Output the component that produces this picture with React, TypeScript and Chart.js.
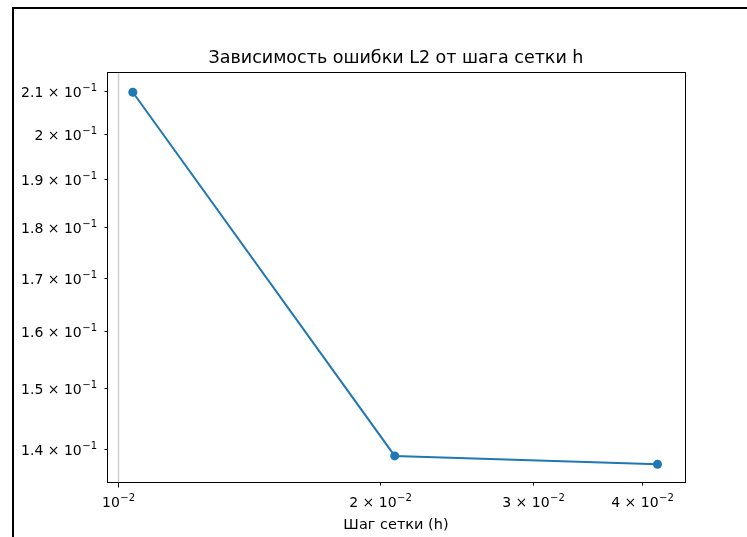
import React, { useEffect, useRef } from "react";
import { Chart, registerables } from "chart.js";

Chart.register(...registerables);

const stepSizes = [0.0104, 0.0208, 0.0417];
const l2Errors = [0.2097, 0.1389, 0.1376];

const xTickValues = [0.01, 0.02, 0.03, 0.04];
const xTickMajor = [true, false, false, false];
const xTickBases = ["10", "2 × 10", "3 × 10", "4 × 10"];
const xTickExps = ["−2", "−2", "−2", "−2"];
const yTickValues = [0.14, 0.15, 0.16, 0.17, 0.18, 0.19, 0.2, 0.21];
const yTickBases = [
  "1.4 × 10",
  "1.5 × 10",
  "1.6 × 10",
  "1.7 × 10",
  "1.8 × 10",
  "1.9 × 10",
  "2 × 10",
  "2.1 × 10",
];
const yTickExps = ["−1", "−1", "−1", "−1", "−1", "−1", "−1", "−1"];

const chartTitle = "Зависимость ошибки L2 от шага сетки h";
const xAxisTitle = "Шаг сетки (h)";

const FONT = "'DejaVu Sans', sans-serif";
const BASE_SIZE = 14;
const EXP_SIZE = 10;

function drawMathLabel(
  ctx: CanvasRenderingContext2D,
  base: string,
  exp: string,
  x: number,
  baseline: number,
  align: "right" | "center"
) {
  ctx.font = `${BASE_SIZE}px ${FONT}`;
  const wb = ctx.measureText(base).width;
  ctx.font = `${EXP_SIZE}px ${FONT}`;
  const we = ctx.measureText(exp).width;
  const total = wb + 0.5 + we;
  const left = align === "right" ? x - total : x - total / 2;
  ctx.textAlign = "left";
  ctx.textBaseline = "alphabetic";
  ctx.font = `${BASE_SIZE}px ${FONT}`;
  ctx.fillText(base, left, baseline);
  ctx.font = `${EXP_SIZE}px ${FONT}`;
  ctx.fillText(exp, left + wb + 0.5, baseline - 6);
}

const decorPlugin = {
  id: "decor",
  beforeDraw(chart: any) {
    const ctx = chart.ctx;
    ctx.save();
    ctx.fillStyle = "#fff";
    ctx.fillRect(0, 0, chart.width, chart.height);
    ctx.restore();
  },
  beforeDatasetsDraw(chart: any) {
    const ctx = chart.ctx;
    const xs = chart.scales.x;
    const area = chart.chartArea;
    const x = Math.round(xs.getPixelForValue(0.01)) + 0.5;
    ctx.save();
    ctx.strokeStyle = "#cfcfcf";
    ctx.lineWidth = 1.5;
    ctx.beginPath();
    ctx.moveTo(x, area.top);
    ctx.lineTo(x, area.bottom);
    ctx.stroke();
    ctx.restore();
  },
  afterDraw(chart: any) {
    const ctx = chart.ctx as CanvasRenderingContext2D;
    const area = chart.chartArea;
    const xs = chart.scales.x;
    const ys = chart.scales.y;
    const L = Math.round(area.left) + 0.5;
    const T = Math.round(area.top) + 0.5;
    const R = Math.round(area.right) + 0.5;
    const B = Math.round(area.bottom) + 0.5;
    ctx.save();
    // axes box
    ctx.strokeStyle = "#000";
    ctx.lineWidth = 1;
    ctx.strokeRect(L, T, R - L, B - T);

    // x ticks and labels
    ctx.fillStyle = "#000";
    xTickValues.forEach((v, i) => {
      const px = Math.round(xs.getPixelForValue(v)) + 0.5;
      const len = xTickMajor[i] ? 5 : 3;
      ctx.beginPath();
      ctx.moveTo(px, B);
      ctx.lineTo(px, B + len);
      ctx.stroke();
      drawMathLabel(ctx, xTickBases[i], xTickExps[i], px, 507, "center");
    });
    // y ticks and labels
    yTickValues.forEach((v, i) => {
      const py = Math.round(ys.getPixelForValue(v)) + 0.5;
      ctx.beginPath();
      ctx.moveTo(L, py);
      ctx.lineTo(L - 3, py);
      ctx.stroke();
      drawMathLabel(ctx, yTickBases[i], yTickExps[i], L - 10.5, py + 5.5, "right");
    });

    // outer frame
    ctx.lineWidth = 2;
    ctx.beginPath();
    ctx.moveTo(13, chart.height);
    ctx.lineTo(13, 8);
    ctx.lineTo(chart.width, 8);
    ctx.stroke();
    // titles
    const cx = (area.left + area.right) / 2;
    ctx.textAlign = "center";
    ctx.textBaseline = "alphabetic";
    ctx.font = `17.5px ${FONT}`;
    ctx.fillText(chartTitle, cx, 63);
    ctx.font = `14.5px ${FONT}`;
    ctx.fillText(xAxisTitle, cx, 529);
    ctx.restore();
  },
};

export default function App() {
  const ref = useRef<HTMLCanvasElement | null>(null);

  useEffect(() => {
    if (!ref.current) return;
    const chart = new Chart(ref.current, {
      type: "line",
      data: {
        datasets: [
          {
            data: stepSizes.map((h, i) => ({ x: h, y: l2Errors[i] })),
            borderColor: "#1f77b4",
            backgroundColor: "#1f77b4",
            borderWidth: 2,
            pointRadius: 4.5,
            pointHoverRadius: 4.5,
            pointBorderWidth: 0,
            tension: 0,
          },
        ],
      },
      options: {
        animation: false,
        responsive: false,
        devicePixelRatio: 1,
        layout: { padding: { left: 0, top: 72, right: 62, bottom: 0 } },
        plugins: {
          legend: { display: false },
          tooltip: { enabled: false },
          title: { display: false },
        },
        scales: {
          x: {
            type: "logarithmic",
            min: 0.009713,
            max: 0.04485,
            afterFit: (s: any) => {
              s.height = 55;
            },
            border: { display: false },
            grid: { display: false },
            ticks: { display: false },
          },
          y: {
            type: "logarithmic",
            min: 0.13486,
            max: 0.21457,
            afterFit: (s: any) => {
              s.width = 107;
            },
            border: { display: false },
            grid: { display: false },
            ticks: { display: false },
          },
        },
      },
      plugins: [decorPlugin],
    } as any);
    return () => chart.destroy();
  }, []);

  return (
    <div style={{ position: "absolute", left: 0, top: 0, width: 747, height: 537 }}>
      <canvas ref={ref} width={747} height={537} style={{ display: "block", width: 747, height: 537 }} />
    </div>
  );
}
